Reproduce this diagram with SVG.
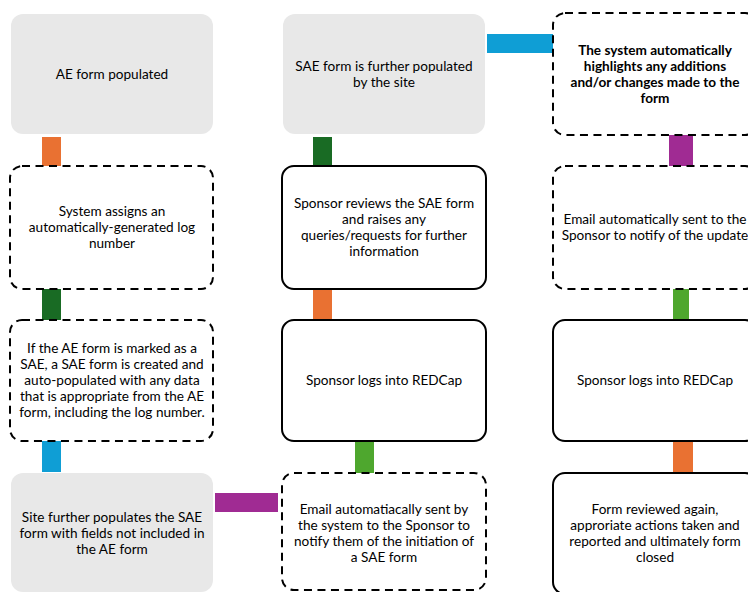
<svg xmlns="http://www.w3.org/2000/svg" width="748" height="592" viewBox="0 0 748 592">
<style>
.g{fill:#E8E8E8;stroke:none}
.d{fill:#fff;stroke:#000;stroke-width:2;stroke-dasharray:8 5.5}
.s{fill:#fff;stroke:#000;stroke-width:2}
text{font-family:Lato,"Open Sans","Liberation Sans",sans-serif;font-size:13.6px;fill:#000;text-anchor:middle}
.b{font-weight:bold}
</style>
<rect width="748" height="592" fill="#fff"/>
<g id="connectors">
<rect x="42" y="137" width="19" height="29" fill="#E97132"/>
<rect x="42" y="289" width="19" height="31" fill="#196B24"/>
<rect x="42" y="441" width="19" height="31" fill="#0F9ED5"/>
<rect x="215" y="493" width="63" height="19" fill="#A02B93"/>
<rect x="313" y="137" width="19" height="29" fill="#196B24"/>
<rect x="313" y="289" width="19" height="31" fill="#E97132"/>
<rect x="355" y="441" width="19" height="32" fill="#4EA72E"/>
<rect x="487" y="34" width="66" height="19" fill="#0F9ED5"/>
<rect x="669" y="135" width="24" height="31" fill="#A02B93"/>
<rect x="673" y="289" width="16" height="40" fill="#4EA72E"/>
<rect x="673" y="437" width="20" height="35" fill="#E97132"/>
</g>
<g id="n1"><rect class="g" x="11" y="14" width="202" height="120" rx="12"/>
<text x="112" y="78.5">AE form populated</text></g>
<g id="n2"><rect class="d" x="10" y="166" width="203" height="123" rx="12"/>
<text x="112" y="215.5">System assigns an</text><text x="112" y="231.5">automatically-generated log</text><text x="112" y="247.5">number</text></g>
<g id="n3"><rect class="d" x="10" y="320" width="203" height="121" rx="12"/>
<text x="112" y="352.5">If the AE form is marked as a</text><text x="112" y="368.5">SAE, a SAE form is created and</text><text x="112" y="384.5">auto-populated with any data</text><text x="112" y="400.5">that is appropriate from the AE</text><text x="112" y="416.5">form, including the log number.</text></g>
<g id="n4"><rect class="g" x="11" y="473" width="202" height="119" rx="12"/>
<text x="112" y="521.5">Site further populates the SAE</text><text x="112" y="537.5">form with fields not included in</text><text x="112" y="553.5">the AE form</text></g>
<g id="n5"><rect class="g" x="283" y="14" width="202" height="120" rx="12"/>
<text x="384" y="70.5">SAE form is further populated</text><text x="384" y="86.5">by the site</text></g>
<g id="n6"><rect class="s" x="282" y="166" width="204" height="123" rx="12"/>
<text x="384" y="207.5">Sponsor reviews the SAE form</text><text x="384" y="223.5">and raises any</text><text x="384" y="239.5">queries/requests for further</text><text x="384" y="255.5">information</text></g>
<g id="n7"><rect class="s" x="282" y="320" width="204" height="121" rx="12"/>
<text x="384" y="384.5">Sponsor logs into REDCap</text></g>
<g id="n8"><rect class="d" x="282" y="473" width="204" height="117" rx="12"/>
<text x="384" y="513.5">Email automatiacally sent by</text><text x="384" y="529.5">the system to the Sponsor to</text><text x="384" y="545.5">notify them of the initiation of</text><text x="384" y="561.5">a SAE form</text></g>
<g id="n9"><rect class="d" x="553" y="13" width="204" height="122" rx="12"/>
<text class="b" x="655" y="54.5">The system automatically</text><text class="b" x="655" y="70.5">highlights any additions</text><text class="b" x="655" y="86.5">and/or changes made to the</text><text class="b" x="655" y="102.5">form</text></g>
<g id="n10"><rect class="d" x="553" y="166" width="204" height="123" rx="12"/>
<text x="655" y="223.5">Email automatically sent to the</text><text x="655" y="239.5">Sponsor to notify of the update</text></g>
<g id="n11"><rect class="s" x="553" y="320" width="204" height="121" rx="12"/>
<text x="655" y="384.5">Sponsor logs into REDCap</text></g>
<g id="n12"><rect class="s" x="553" y="473" width="204" height="121" rx="12"/>
<text x="655" y="513.5">Form reviewed again,</text><text x="655" y="529.5">approriate actions taken and</text><text x="655" y="545.5">reported and ultimately form</text><text x="655" y="561.5">closed</text></g>
</svg>
